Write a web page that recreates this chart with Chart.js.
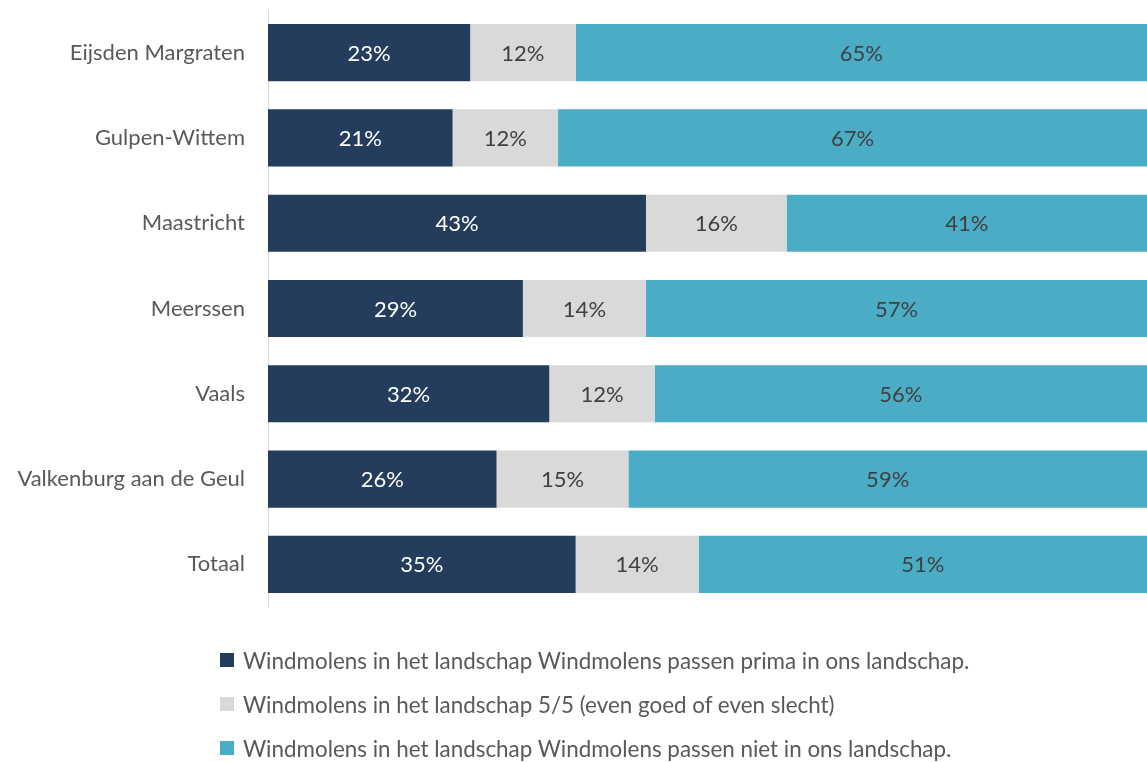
<!DOCTYPE html>
<html>
<head>
<meta charset="utf-8">
<script src="https://cdn.jsdelivr.net/npm/chart.js@4"></script>
<style>
    html, body { margin: 0; padding: 0; background: #fff; }
    #wrap { position: relative; width: 1147px; height: 762px; overflow: hidden; }
    #legend {
        position: absolute; left: 220px; top: 638px;
        font-family: Lato, sans-serif; font-size: 22.4px; color: #595959;
    }
    #legend div { display: flex; align-items: center; height: 44px; }
    #legend span.box { width: 14px; height: 14px; margin-right: 9px; display: inline-block; }
</style>
</head>
<body>
<div id="wrap">
    <canvas id="chart" width="1147" height="762"></canvas>
    <div id="legend"></div>
</div>
<script>
// Data
const categories = ['Eijsden Margraten', 'Gulpen-Wittem', 'Maastricht', 'Meerssen', 'Vaals', 'Valkenburg aan de Geul', 'Totaal'];
const seriesNames = [
    'Windmolens in het landschap Windmolens passen prima in ons landschap.',
    'Windmolens in het landschap 5/5 (even goed of even slecht)',
    'Windmolens in het landschap Windmolens passen niet in ons landschap.'
];
const passenPrima = [23, 21, 43, 29, 32, 26, 35];
const evenGoed = [12, 12, 16, 14, 12, 15, 14];
const passenNiet = [65, 67, 41, 57, 56, 59, 51];

const colors = ['#243D5C', '#D9D9D9', '#4BACC6'];
const labelColors = ['#FFFFFF', '#404040', '#404040'];

// Draws the percentage inside each bar segment
const barLabels = {
    id: 'barLabels',
    afterDatasetsDraw(chart) {
        const ctx = chart.ctx;
        ctx.save();
        ctx.font = '22px Lato, sans-serif';
        ctx.textAlign = 'center';
        ctx.textBaseline = 'middle';
        chart.data.datasets.forEach((ds, i) => {
            chart.getDatasetMeta(i).data.forEach((bar, j) => {
                ctx.fillStyle = labelColors[i];
                ctx.fillText(ds.data[j] + '%', (bar.x + bar.base) / 2, bar.y + 1);
            });
        });
        ctx.restore();
    }
};

const datasets = [passenPrima, evenGoed, passenNiet].map((vals, i) => ({
    label: seriesNames[i],
    data: vals,
    backgroundColor: colors[i],
    borderWidth: 0,
    barPercentage: 0.67,
    categoryPercentage: 1
}));

new Chart(document.getElementById('chart'), {
    type: 'bar',
    data: { labels: categories, datasets: datasets },
    plugins: [barLabels],
    options: {
        indexAxis: 'y',
        responsive: false,
        animation: false,
        layout: { padding: { top: 10, bottom: 155, left: 0, right: 0 } },
        plugins: {
            legend: { display: false },
            tooltip: { enabled: false }
        },
        scales: {
            x: { stacked: true, min: 0, max: 100, display: false },
            y: {
                stacked: true,
                grid: { display: false },
                border: { display: true, color: '#D9D9D9', width: 1 },
                ticks: {
                    color: '#595959',
                    padding: 15,
                    font: { family: 'Lato', size: 22 }
                },
                afterFit(scale) {
                    scale.width = 268;
                    scale.paddingTop = 0;
                    scale.paddingBottom = 0;
                }
            }
        }
    }
});

// Legend
const legendEl = document.getElementById('legend');
seriesNames.forEach((name, i) => {
    const row = document.createElement('div');
    row.innerHTML = '<span class="box" style="background:' + colors[i] + '"></span>' + name;
    legendEl.appendChild(row);
});
</script>
</body>
</html>
